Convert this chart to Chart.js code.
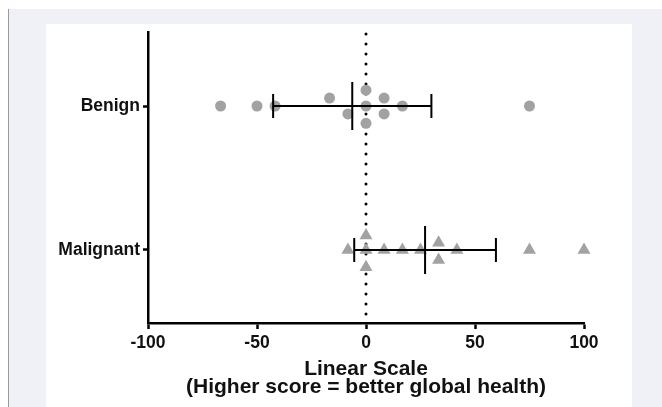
<!DOCTYPE html>
<html>
<head>
<meta charset="utf-8">
<script src="https://cdn.jsdelivr.net/npm/chart.js@4.4.1/dist/chart.umd.min.js"></script>
<style>
  html, body { margin: 0; padding: 0; background: #fff; }
  body { width: 662px; height: 407px; position: relative; overflow: hidden; }
  #frame { position: absolute; left: 8px; top: 9px; width: 654px; height: 398px; background: #f0f1f7; border-left: 1px solid #9a9a9a; }
  #panel { position: absolute; left: 46px; top: 24px; width: 586px; height: 383px; background: #fff; }
  #chart { position: absolute; left: 0; top: 0; }
</style>
</head>
<body>
<div id="frame"></div>
<div id="panel"></div>
<canvas id="chart" width="662" height="407"></canvas>
<script>
// groups, top to bottom
const categories = ['Benign', 'Malignant'];
const categoryPos = [2, 1];

// individual scores (x) and swarm offsets (in row units)
const benignScores = [-66.7, -50, -41.7, -16.7, -8.3, 0, 0, 0, 8.3, 8.3, 16.7, 75];
const benignJitter = [0, 0, 0, 0.055, -0.055, 0.11, 0, -0.12, 0.055, -0.055, 0, 0];
const malignantScores = [-8.3, 0, 0, 0, 8.3, 16.7, 25, 33.3, 33.3, 41.7, 75, 100];
const malignantJitter = [0, 0.1, 0, -0.12, 0, 0, 0, 0.05, -0.07, 0, 0, 0];

// mean +/- SD per group
const groupMeans = [-6.3, 27.1];
const groupSD = [36.3, 32.5];

const xTicks = [-100, -50, 0, 50, 100];

const ptColor = '#a2a2a2';
const axisFont = { family: '"Liberation Sans", Arial, sans-serif', size: 17.5, weight: 'bold' };

function pts(scores, jitter, yPos) {
  return scores.map((v, i) => ({ x: v, y: yPos + jitter[i] }));
}

// zero reference line + mean/SD bars
const overlay = {
  id: 'overlay',
  beforeDatasetsDraw(chart) {
    const { ctx, chartArea, scales: { x } } = chart;
    const px = x.getPixelForValue(0);
    ctx.save();
    ctx.strokeStyle = '#000';
    ctx.lineWidth = 3;
    ctx.lineCap = 'round';
    ctx.setLineDash([0, 10]);
    ctx.lineDashOffset = -1;
    ctx.beginPath();
    ctx.moveTo(px, chartArea.top + 1);
    ctx.lineTo(px, chartArea.bottom - 2);
    ctx.stroke();
    ctx.restore();
  },
  afterDatasetsDraw(chart) {
    const { ctx, scales: { x, y } } = chart;
    ctx.save();
    ctx.strokeStyle = '#000';
    ctx.lineWidth = 2;
    groupMeans.forEach((m, i) => {
      const py = y.getPixelForValue(categoryPos[i]);
      const lo = x.getPixelForValue(m - groupSD[i]);
      const hi = x.getPixelForValue(m + groupSD[i]);
      const mx = x.getPixelForValue(m);
      ctx.beginPath();
      ctx.moveTo(lo, py); ctx.lineTo(hi, py);
      ctx.moveTo(lo, py - 12); ctx.lineTo(lo, py + 12);
      ctx.moveTo(hi, py - 12); ctx.lineTo(hi, py + 12);
      ctx.moveTo(mx, py - 24); ctx.lineTo(mx, py + 24);
      ctx.stroke();
    });
    ctx.restore();
  }
};

new Chart(document.getElementById('chart'), {
  type: 'scatter',
  data: {
    datasets: [
      { label: categories[0], data: pts(benignScores, benignJitter, categoryPos[0]), pointStyle: 'circle', pointRadius: 5.5, backgroundColor: ptColor, borderColor: ptColor, borderWidth: 0, clip: false },
      { label: categories[1], data: pts(malignantScores, malignantJitter, categoryPos[1]), pointStyle: 'triangle', pointRadius: 7.5, backgroundColor: ptColor, borderColor: ptColor, borderWidth: 0, clip: false }
    ]
  },
  options: {
    responsive: false, animation: false,
    layout: { padding: { left: 0, right: 78, top: 32, bottom: 0 } },
    plugins: { legend: { display: false }, tooltip: { enabled: false } },
    scales: {
      x: {
        type: 'linear', min: -100, max: 100,
        afterBuildTicks: s => { s.ticks = xTicks.map(v => ({ value: v })); },
        afterFit: s => { s.height = 84; },
        border: { color: '#000', width: 2.5 },
        grid: { drawOnChartArea: false, drawTicks: true, tickLength: 6, tickColor: '#000', tickWidth: 2.5 },
        ticks: { color: '#111', font: axisFont, padding: 4 },
        title: {
          display: true,
          text: ['Linear Scale', '(Higher score = better global health)'],
          color: '#111',
          font: { family: '"Liberation Sans", Arial, sans-serif', size: 21, weight: 'bold', lineHeight: 0.85 },
          padding: { top: 0, bottom: 11 }
        }
      },
      y: {
        type: 'linear', min: 0.493, max: 2.514,
        afterBuildTicks: s => { s.ticks = categoryPos.map(v => ({ value: v })); },
        afterFit: s => { s.width = 148; },
        border: { color: '#000', width: 2.5 },
        grid: { drawOnChartArea: false, drawTicks: true, tickLength: 5, tickColor: '#000', tickWidth: 2.5 },
        ticks: { color: '#111', font: axisFont, padding: 3, callback: v => categories[categoryPos.indexOf(v)] }
      }
    }
  },
  plugins: [overlay]
});
</script>
</body>
</html>
